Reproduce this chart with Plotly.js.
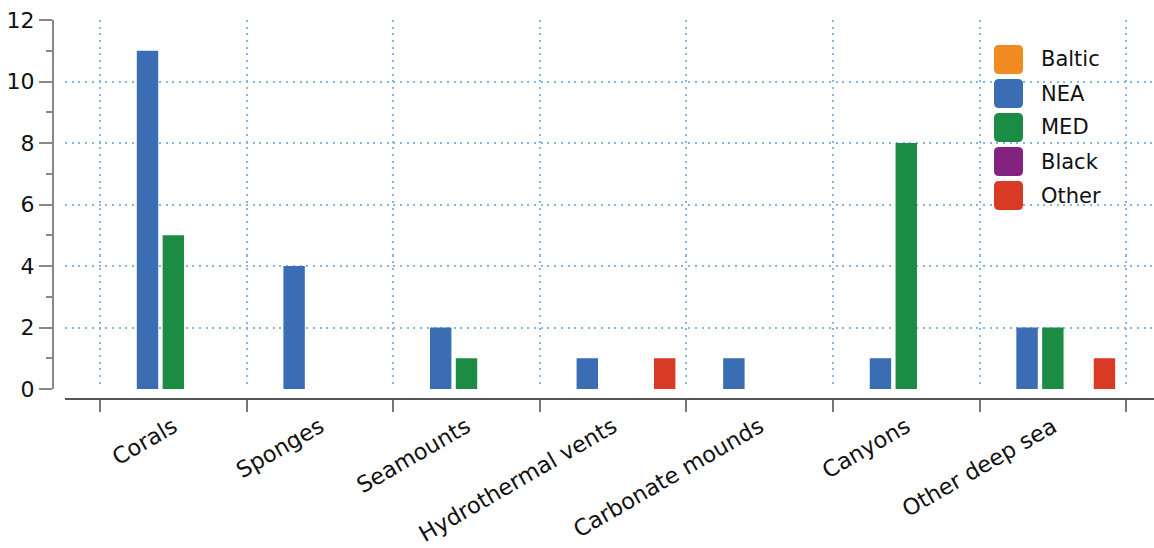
<!DOCTYPE html>
<html>
<head>
<meta charset="utf-8">
<script src="https://cdn.plot.ly/plotly-3.0.1.min.js"></script>
<style>html,body{margin:0;padding:0;background:#fff;}#chart{width:1154px;height:548px;}</style>
</head>
<body>
<div id="chart"></div>
<script>
const categories = ["Corals", "Sponges", "Seamounts", "Hydrothermal vents", "Carbonate mounds", "Canyons", "Other deep sea"];
const seriesNames = ["Baltic", "NEA", "MED", "Black", "Other"];
const seriesColors = ["#F08A21", "#3A6DB4", "#1C8C44", "#84237F", "#D83A26"];
const baltic = [0, 0, 0, 0, 0, 0, 0];
const nea    = [11, 4, 2, 1, 1, 1, 2];
const med    = [5, 0, 1, 0, 0, 8, 2];
const black  = [0, 0, 0, 0, 0, 0, 0];
const other  = [0, 0, 0, 1, 0, 0, 1];
const seriesValues = [baltic, nea, med, black, other];
const yTicks = [0, 2, 4, 6, 8, 10, 12];

const FONT = "DejaVu Sans, Verdana, sans-serif";
const W = 1154, H = 548;
const M = {l: 53, r: 0, t: 20, b: 149};
const pw = W - M.l - M.r, ph = H - M.t - M.b;

const traces = seriesNames.map((name, i) => ({
  type: "bar",
  name: name,
  x: categories,
  y: seriesValues[i],
  marker: {color: seriesColors[i], line: {width: 0}},
  showlegend: false,
  hoverinfo: "x+y+name"
}));

// custom legend built from the series arrays
const shapes = [];
const annotations = [];
const half = 14.5, rad = 5;
const roundedPath =
  `M ${-half + rad},${-half} L ${half - rad},${-half} Q ${half},${-half} ${half},${-half + rad} ` +
  `L ${half},${half - rad} Q ${half},${half} ${half - rad},${half} L ${-half + rad},${half} ` +
  `Q ${-half},${half} ${-half},${half - rad} L ${-half},${-half + rad} Q ${-half},${-half} ${-half + rad},${-half} Z`;
seriesNames.forEach((name, i) => {
  const cy = 59.5 + i * 34;
  const py = (H - M.b - cy) / ph;
  shapes.push({
    type: "path", xref: "paper", yref: "paper",
    xsizemode: "pixel", ysizemode: "pixel",
    xanchor: (1008.5 - M.l) / pw, yanchor: py,
    path: roundedPath,
    fillcolor: seriesColors[i], line: {width: 0}
  });
  annotations.push({
    xref: "paper", yref: "paper",
    x: (1039 - M.l) / pw, y: py,
    xanchor: "left", yanchor: "middle",
    text: name, showarrow: false,
    font: {family: FONT, size: 21, color: "#111"}
  });
});

const gridDash = "2px,4.7px";
const layout = {
  width: W, height: H,
  margin: M,
  paper_bgcolor: "#fff", plot_bgcolor: "#fff",
  barmode: "group",
  bargap: 0.12,
  bargroupgap: 0.17,
  showlegend: false,
  font: {family: FONT, size: 21, color: "#111"},
  xaxis: {
    type: "category",
    domain: [12 / pw, 1],
    range: [-0.739, 6.69],
    anchor: "free", position: 0,
    tickson: "boundaries",
    showline: true, linecolor: "#555", linewidth: 2,
    ticks: "outside", ticklen: 12, tickwidth: 2, tickcolor: "#777",
    tickangle: -30,
    ticklabelstandoff: 5,
    tickfont: {family: FONT, size: 22.5, color: "#111"},
    showgrid: true, gridcolor: "#86B6E2", gridwidth: 2, griddash: gridDash,
    zeroline: false, fixedrange: true
  },
  yaxis: {
    domain: [10 / ph, 1],
    range: [0, 12],
    anchor: "free", position: 0,
    tickmode: "array", tickvals: yTicks, ticktext: yTicks.map(String),
    showline: true, linecolor: "#888", linewidth: 2,
    ticks: "outside", ticklen: 13, tickwidth: 2, tickcolor: "#888",
    minor: {dtick: 1, ticks: "outside", ticklen: 6, tickwidth: 2, tickcolor: "#888", showgrid: false},
    tickfont: {family: FONT, size: 22, color: "#111"},
    showgrid: true, gridcolor: "#86B6E2", gridwidth: 2, griddash: gridDash,
    zeroline: false, fixedrange: true
  },
  shapes: shapes,
  annotations: annotations
};

Plotly.newPlot("chart", traces, layout, {displayModeBar: false, staticPlot: true});
</script>
</body>
</html>
